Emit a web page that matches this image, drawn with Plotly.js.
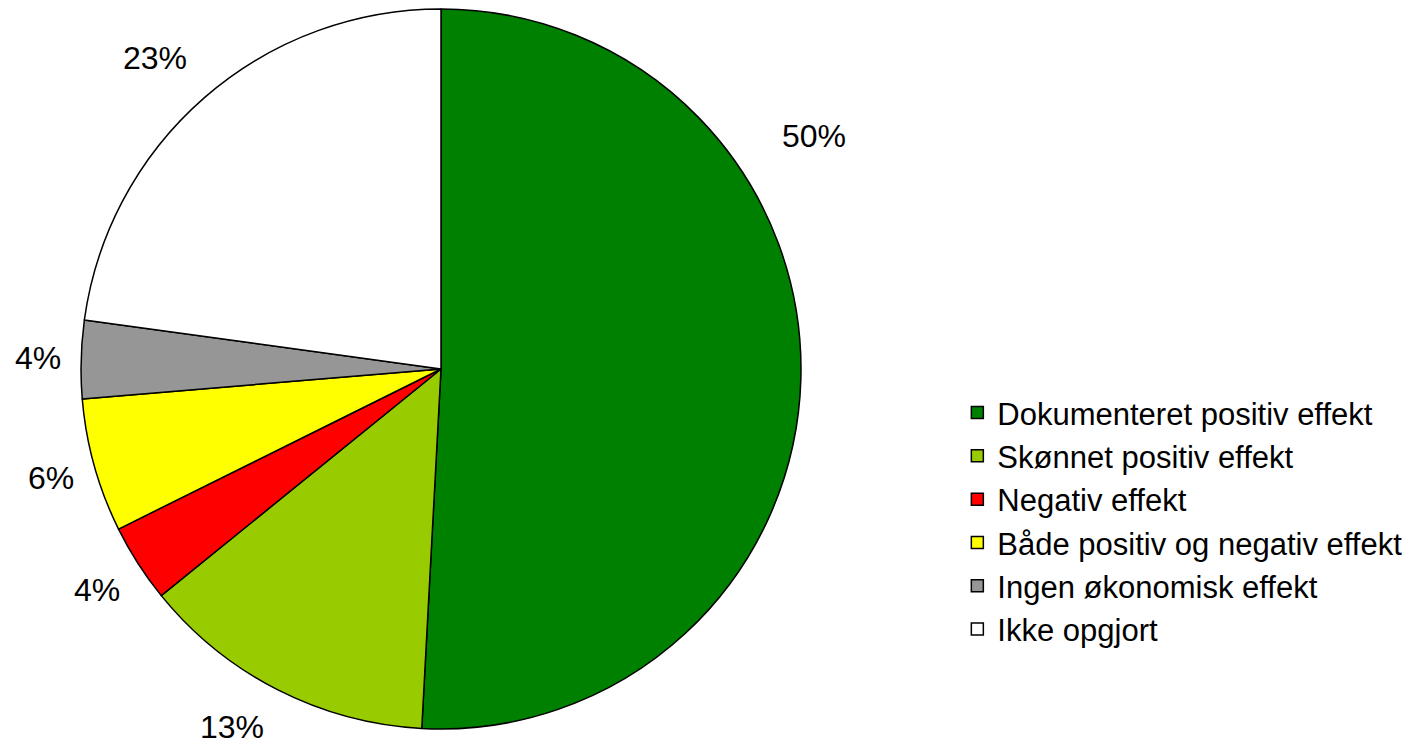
<!DOCTYPE html>
<html>
<head>
<meta charset="utf-8">
<script src="https://cdn.plot.ly/plotly-3.0.1.min.js"></script>
<style>html,body{margin:0;padding:0;background:#fff;}#chart{width:1412px;height:745px;}</style>
</head>
<body>
<div id="chart"></div>
<script>
const categories = ["Dokumenteret positiv effekt", "Skønnet positiv effekt", "Negativ effekt", "Både positiv og negativ effekt", "Ingen økonomisk effekt", "Ikke opgjort"];
const shares = [50.8, 13.3, 3.5, 6.0, 3.5, 22.8];
const shareLabels = ["50%", "13%", "4%", "6%", "4%", "23%"];
const sliceColors = ["#008000", "#99CC00", "#FF0000", "#FFFF00", "#969696", "#FFFFFF"];

// layout geometry (pixels)
const W = 1412, H = 745;
const cx = 441, cy = 369, r = 360;
// distance of each percentage label from the pie centre
const labelDists = [440, 415, 409, 405, 403, 422];
// labels that were moved by hand in the original (angle in degrees from top, clockwise)
const labelAngleOverrides = {0: 58, 1: 210.3, 5: 317.4};

const trace = {
  type: "pie",
  labels: categories,
  values: shares,
  text: shareLabels,
  textinfo: "none",
  sort: false,
  direction: "clockwise",
  rotation: 0,
  hoverinfo: "label+text",
  marker: {colors: sliceColors, line: {color: "#000000", width: 1.5}},
  domain: {x: [(cx - r) / W, (cx + r) / W], y: [(H - cy - r) / H, (H - cy + r) / H]}
};

// percentage labels placed around the pie at each slice's mid-angle
const total = shares.reduce((a, b) => a + b, 0);
let cum = 0;
const annotations = shares.map((v, i) => {
  const mid = (cum + v / 2) / total * 360;
  cum += v;
  const deg = (i in labelAngleOverrides) ? labelAngleOverrides[i] : mid;
  const ang = deg * Math.PI / 180;
  const d = labelDists[i];
  const px = cx + d * Math.sin(ang);
  const py = cy - d * Math.cos(ang);
  return {
    xref: "paper", yref: "paper",
    x: px / W, y: (H - py) / H,
    xanchor: "center", yanchor: "middle",
    text: shareLabels[i], showarrow: false,
    font: {family: "Liberation Sans, Arial, sans-serif", size: 32, color: "#000"}
  };
});

const layout = {
  width: W, height: H,
  margin: {l: 0, r: 0, t: 0, b: 0},
  paper_bgcolor: "#fff",
  showlegend: true,
  annotations: annotations,
  legend: {
    x: 0.678, y: 0.482, xanchor: "left", yanchor: "top",
    font: {family: "Liberation Sans, Arial, sans-serif", size: 31, color: "#000"},
    itemwidth: 30,
    bgcolor: "rgba(0,0,0,0)"
  }
};

Plotly.newPlot("chart", [trace], layout, {displayModeBar: false, staticPlot: true});
</script>
</body>
</html>
